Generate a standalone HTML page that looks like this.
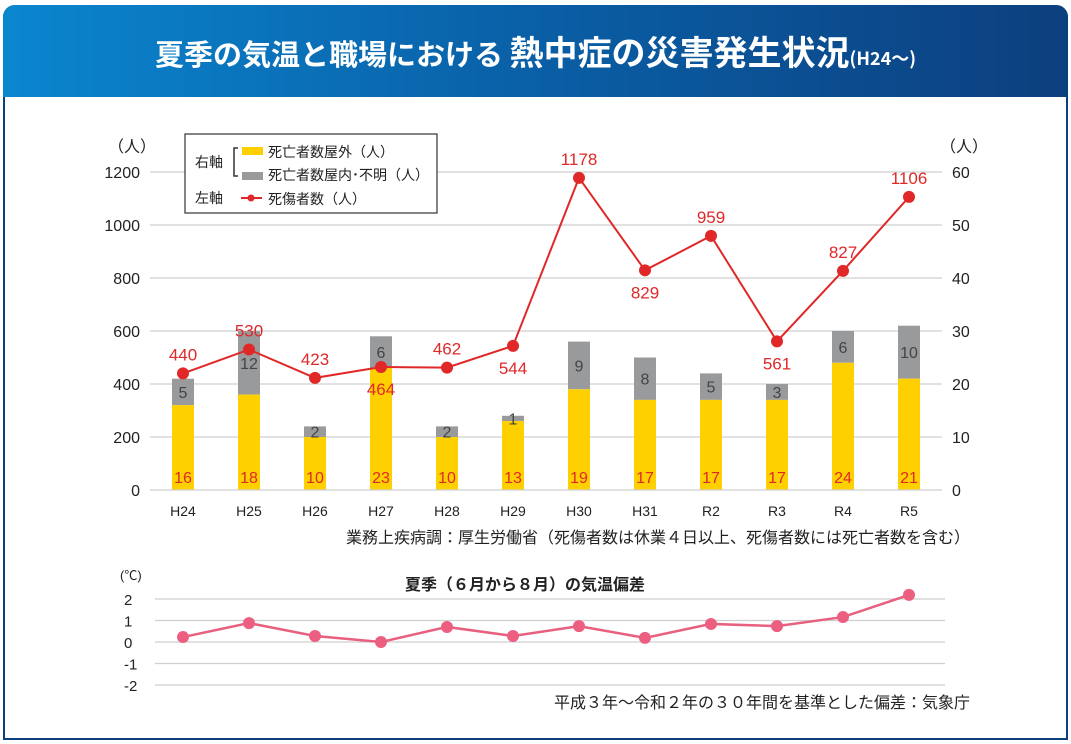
<!DOCTYPE html>
<html><head><meta charset="utf-8">
<style>
html,body{margin:0;padding:0;background:#fff;}
body{width:1071px;height:744px;overflow:hidden;position:relative;font-family:"Liberation Sans","Noto Sans CJK JP",sans-serif;}
#frame{position:absolute;left:3px;top:5px;width:1061px;height:733px;border:2px solid #0d3f7f;border-top:none;border-radius:12px 12px 0 0;}
#header{position:absolute;left:3px;top:5px;width:1065px;height:92px;border-radius:12px 12px 0 0;background:linear-gradient(90deg,#0a86cf,#0a5fa6 50%,#0c3f7e);color:#fff;text-align:center;line-height:92px;font-size:29px;font-weight:bold;font-family:"Noto Sans CJK JP",sans-serif;}
#header .big{font-size:34px}
#header .small{font-size:18px}
svg{position:absolute;left:0;top:0}
</style></head><body>
<div id="frame"></div>
<div id="header">夏季の気温と職場における <span class="big">熱中症の災害発生状況</span><span class="small">(H24～)</span></div>
<svg id="chart" width="1071" height="744"></svg>
<script>
const categories=["H24","H25","H26","H27","H28","H29","H30","H31","R2","R3","R4","R5"];
const outdoorDeaths=[16,18,10,23,10,13,19,17,17,17,24,21];
const indoorDeaths=[5,12,2,6,2,1,9,8,5,3,6,10];
const casualties=[440,530,423,464,462,544,1178,829,959,561,827,1106];
const tempAnomaly=[0.23,0.88,0.28,0.0,0.7,0.28,0.74,0.19,0.84,0.74,1.16,2.19];
const leftTicks=[0,200,400,600,800,1000,1200];
const rightTicks=[0,10,20,30,40,50,60];
const tempTicks=[2,1,0,-1,-2];
const labelBelow=[false,false,false,true,false,true,false,true,false,true,false,false];

const NS="http://www.w3.org/2000/svg";
const svg=document.getElementById('chart');
function mk(tag,attrs,text){const e=document.createElementNS(NS,tag);for(const k in attrs)e.setAttribute(k,attrs[k]);if(text!==undefined)e.textContent=text;svg.appendChild(e);return e;}
const x0=150,x1=942,y0=490,yTop=172;
const xS=i=>183+i*66.0;
const yL=v=>y0-(v/1200)*(y0-yTop);
const yR=v=>y0-(v/60)*(y0-yTop);
const FF='"Liberation Sans","Noto Sans CJK JP",sans-serif';

leftTicks.forEach((t,i)=>{
 const y=yL(t);
 if(t>0){const g=mk('line',{x1:x0,x2:x1,y1:y,y2:y,stroke:'#cfcfcf','stroke-width':1.2});}
 const l=mk('text',{x:140,y:y+6,'text-anchor':'end','font-size':16,fill:'#222','font-family':FF},t);
 
 const r=mk('text',{x:952,y:yR(rightTicks[i])+6,'font-size':16,fill:'#222','font-family':FF},rightTicks[i]);
 
});
mk('text',{x:108,y:152,'font-size':16,fill:'#222','font-family':FF},'（人）');
mk('text',{x:940,y:152,'font-size':16,fill:'#222','font-family':FF},'（人）');

categories.forEach((c,i)=>{
 const cx=xS(i),w=22;
 const yo=yR(outdoorDeaths[i]),yi=yR(outdoorDeaths[i]+indoorDeaths[i]);
 const g=mk('rect',{x:cx-w/2,y:yi,width:w,height:yo-yi,fill:'#999a9c'});
 
 const b=mk('rect',{x:cx-w/2,y:yo,width:w,height:y0-yo,fill:'#ffd000'});
 
 const t1=mk('text',{x:cx,y:483,'text-anchor':'middle','font-size':16,fill:'#e02828','font-family':FF},outdoorDeaths[i]);
 
 const t2=mk('text',{x:cx,y:(yo+yi)/2+6,'text-anchor':'middle','font-size':16,fill:'#444','font-family':FF},indoorDeaths[i]);
 
 const xl=mk('text',{x:cx,y:516,'text-anchor':'middle','font-size':14,fill:'#222','font-family':FF},c);
 
});
const bl=mk('line',{x1:x0,x2:x1,y1:y0,y2:y0,stroke:'#cfcfcf','stroke-width':1.2});


const pts=casualties.map((v,i)=>xS(i)+','+yL(v)).join(' ');
const pl=mk('polyline',{points:pts,fill:'none',stroke:'#e02828','stroke-width':2});

casualties.forEach((v,i)=>{
 const c=mk('circle',{cx:xS(i),cy:yL(v),r:6,fill:'#e02828'});
 
 const ty=labelBelow[i]?yL(v)+28:yL(v)-13;
 const t=mk('text',{x:xS(i),y:ty,'text-anchor':'middle','font-size':17,fill:'#e02828','font-family':FF},v);
 
});

// legend
const lg=mk('rect',{x:185,y:134,width:252,height:79,fill:'#fff',stroke:'#333','stroke-width':1.2});

mk('text',{x:195,y:167,'font-size':14,fill:'#222','font-family':FF},'右軸');
mk('path',{d:'M238,148 h-4 v28 h4',fill:'none',stroke:'#333','stroke-width':1.5});
mk('rect',{x:242,y:147,width:21,height:8,fill:'#ffd000'});
mk('text',{x:268,y:157,'font-size':14,fill:'#222','font-family':FF},'死亡者数屋外（人）');
mk('rect',{x:242,y:172,width:21,height:8,fill:'#999a9c'});
mk('text',{x:268,y:180,'font-size':14,fill:'#222','font-family':FF},'死亡者数屋内･不明（人）');
mk('text',{x:195,y:203,'font-size':14,fill:'#222','font-family':FF},'左軸');
mk('line',{x1:241,x2:262,y1:198,y2:198,stroke:'#e02828','stroke-width':2});
mk('circle',{cx:251,cy:198,r:3.5,fill:'#e02828'});
mk('text',{x:268,y:204,'font-size':14,fill:'#222','font-family':FF},'死傷者数（人）');

mk('text',{x:970,y:543,'text-anchor':'end','font-size':16,fill:'#222','font-family':FF},'業務上疾病調：厚生労働省（死傷者数は休業４日以上、死傷者数には死亡者数を含む）');

// temperature chart
const t0=642,tu=21.5;
const yT=v=>t0-v*tu;
tempTicks.forEach(t=>{
 const y=yT(t);
 const g=mk('line',{x1:155,x2:945,y1:y,y2:y,stroke:'#cfcfcf','stroke-width':1.2});
 
 const l=mk('text',{x:124,y:y+6,'font-size':15,fill:'#222','font-family':FF},t);
 
});
mk('text',{x:120,y:580,'font-size':13,fill:'#222','font-family':FF},'(℃)');
mk('text',{x:525,y:590,'text-anchor':'middle','font-size':16,'font-weight':'bold',fill:'#222','font-family':FF},'夏季（６月から８月）の気温偏差');
const tp=tempAnomaly.map((v,i)=>xS(i)+','+yT(v)).join(' ');
const tl=mk('polyline',{points:tp,fill:'none',stroke:'#e8607f','stroke-width':2.5});

tempAnomaly.forEach((v,i)=>{
 const c=mk('circle',{cx:xS(i),cy:yT(v),r:6,fill:'#ec5f80'});
 
});
mk('text',{x:970,y:708,'text-anchor':'end','font-size':16,fill:'#222','font-family':FF},'平成３年～令和２年の３０年間を基準とした偏差：気象庁');
</script>
</body></html>
